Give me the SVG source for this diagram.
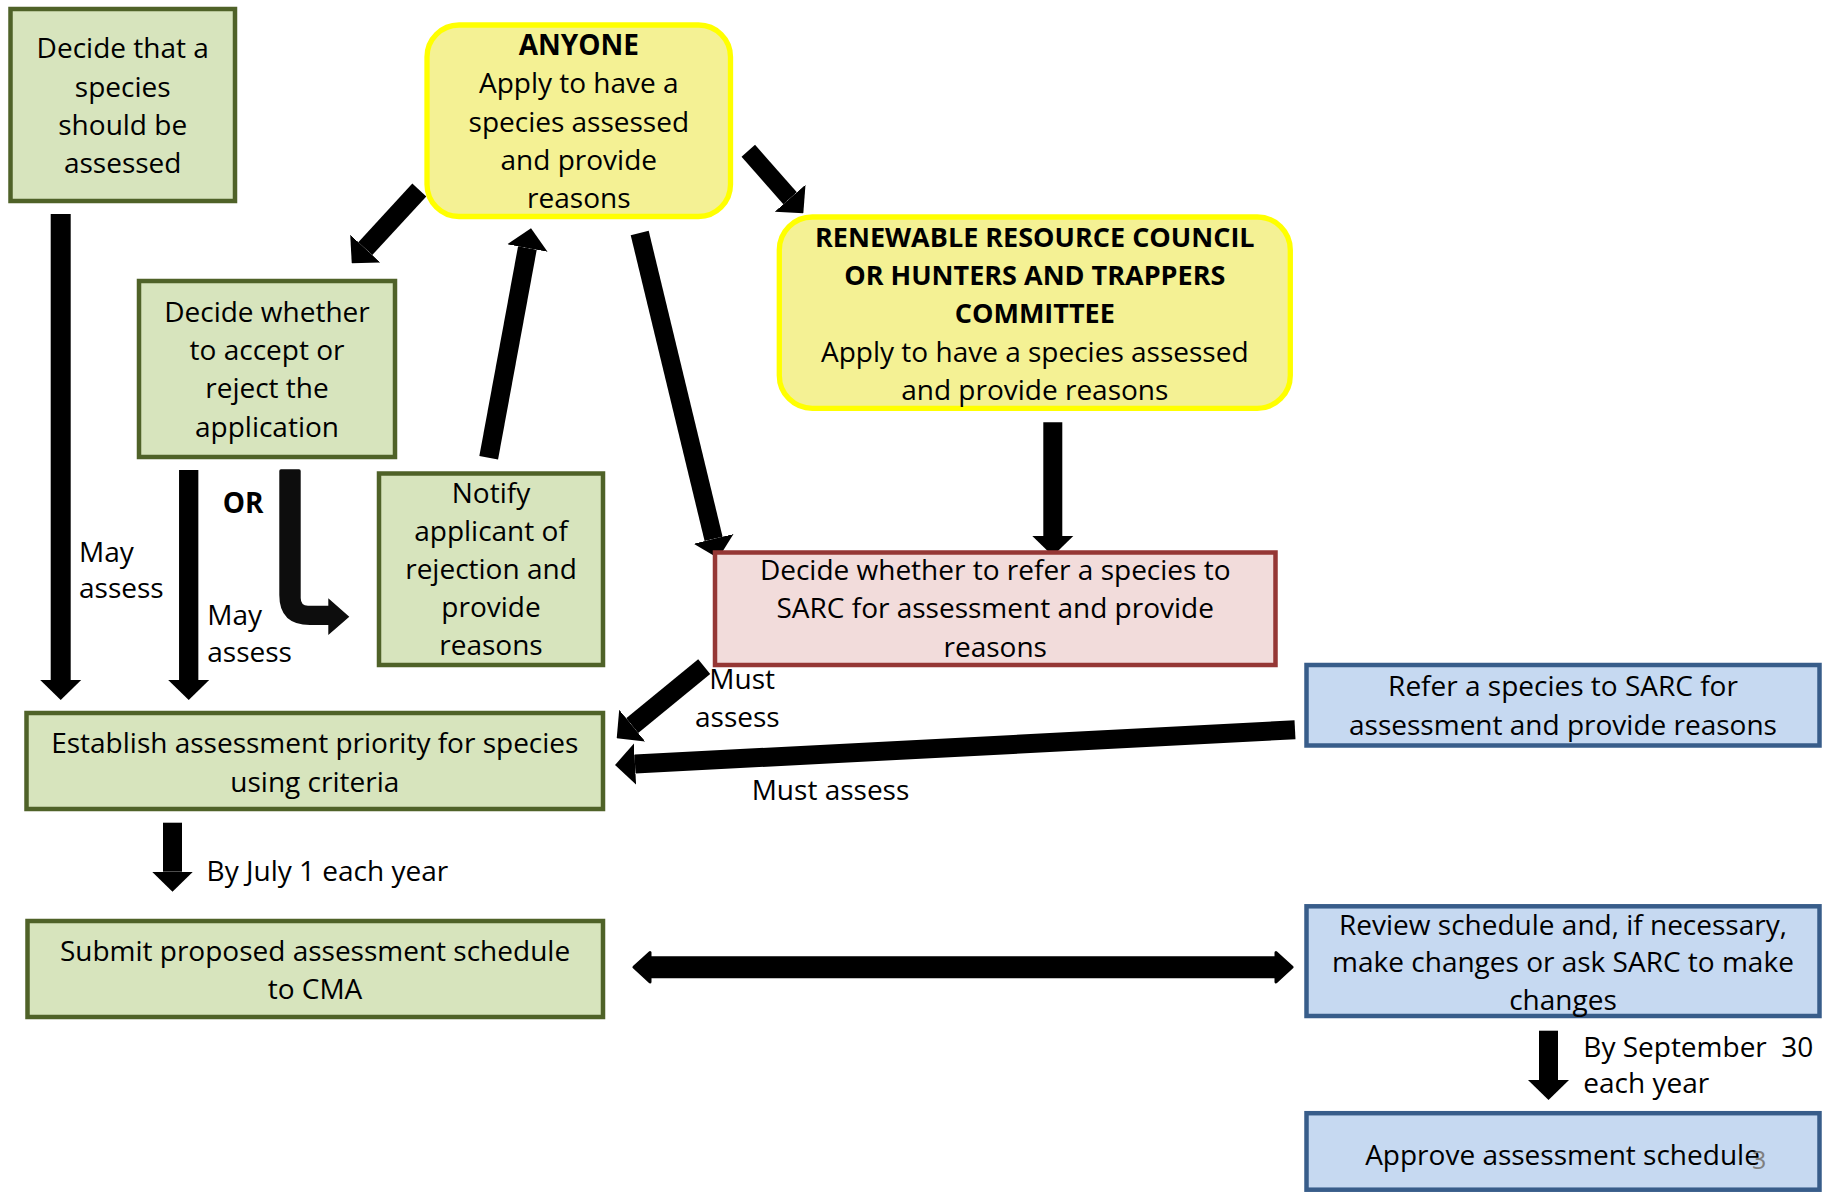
<svg xmlns="http://www.w3.org/2000/svg" width="1829" height="1192" viewBox="0 0 1829 1192">
<defs>
<style>
.t{font-family:"Open Sans","Noto Sans","Liberation Sans",sans-serif;font-size:28px;fill:#000;text-anchor:middle}
.tb{font-weight:bold}
.t27{font-size:27px}
.l{font-family:"Open Sans","Noto Sans","Liberation Sans",sans-serif;font-size:28px;fill:#000}
.gbox{fill:#d7e4bd;stroke:#4f6228;stroke-width:4.5}
.ybox{fill:#f4f194;stroke:#ffff00;stroke-width:5.3}
.rbox{fill:#f2dcdb;stroke:#953735;stroke-width:4.5}
.bbox{fill:#c6d9f1;stroke:#385d8a;stroke-width:4.5}
.sh{stroke:#000;fill:none;marker-end:url(#ah)}
</style>
<marker id="ah" viewBox="0 -21 20 42" refX="0" refY="0" markerWidth="20" markerHeight="42" markerUnits="userSpaceOnUse" orient="auto">
<path d="M0,-20.5 L20,0 L0,20.5 Z" fill="#000"/>
</marker>
</defs>
<rect width="1829" height="1192" fill="#fff"/>

<g id="connectors">
<line class="sh" x1="60.7" y1="214" x2="60.7" y2="680" stroke-width="20"/>
<line class="sh" x1="188.7" y1="470" x2="188.7" y2="680" stroke-width="19.3"/>
<line class="sh" x1="172.5" y1="822.7" x2="172.5" y2="871.7" stroke-width="19"/>
<line class="sh" x1="1052.8" y1="422.3" x2="1052.8" y2="536" stroke-width="19"/>
<line class="sh" x1="1548.5" y1="1030.7" x2="1548.5" y2="1080" stroke-width="19"/>
<line class="sh" x1="488.7" y1="457.7" x2="527.4" y2="248" stroke-width="19"/>
<line class="sh" x1="419.3" y1="190" x2="365.3" y2="248.6" stroke-width="19"/>
<line class="sh" x1="748.3" y1="150.8" x2="790.1" y2="198.3" stroke-width="18"/>
<line class="sh" x1="639.7" y1="233" x2="713.6" y2="538.9" stroke-width="18.5"/>
<line class="sh" x1="704.2" y1="666.7" x2="632.2" y2="725.6" stroke-width="19"/>
<line class="sh" x1="1295" y1="729.8" x2="635" y2="764" stroke-width="19"/>
<polygon points="634,967.2 650,952.5 650,957.7 1276,957.7 1276,952.5 1292,967.2 1276,982 1276,976.7 650,976.7 650,982" fill="#000" stroke="#000" stroke-width="3" stroke-linejoin="round"/>
<path d="M279.3,471 Q279.3,469.3 281,469.3 H299 Q300.7,469.3 300.7,471 V598 Q300.7,605.7 308,605.7 H328.3 V598.3 L349.3,616.7 L328.3,635 V625 H310 Q279.3,625 279.3,595 Z" fill="#0d0d0d"/>
</g>

<g id="label-may1"><text class="l" x="79" y="561.7">May</text><text class="l" x="79" y="598.3">assess</text></g>
<g id="label-may2"><text class="l" x="207.3" y="625">May</text><text class="l" x="207.3" y="661.7">assess</text></g>
<g id="label-or"><text class="l tb" x="222.7" y="513.3">OR</text></g>
<g id="label-must1"><text class="l" x="709.3" y="688.5">Must</text><text class="l" x="695" y="726.7">assess</text></g>
<g id="label-must2"><text class="l" x="751.7" y="800">Must assess</text></g>
<g id="label-july"><text class="l" x="206.6" y="881">By July 1 each year</text></g>
<g id="label-sept"><text class="l" x="1583.3" y="1056.7" style="white-space:pre">By September  30</text><text class="l" x="1583.3" y="1093.3">each year</text></g>

<g id="node-decide-that">
<rect class="gbox" x="10.5" y="9" width="224.5" height="192"/>
<text class="t" x="122.7" y="58.3">Decide that a</text>
<text class="t" x="122.7" y="96.7">species</text>
<text class="t" x="122.7" y="135">should be</text>
<text class="t" x="122.7" y="173.3">assessed</text>
</g>

<g id="node-anyone">
<rect class="ybox" x="427" y="25" width="303.5" height="191.5" rx="32"/>
<text class="t tb" x="578.8" y="55">ANYONE</text>
<text class="t" x="578.8" y="93.3">Apply to have a</text>
<text class="t" x="578.8" y="131.6">species assessed</text>
<text class="t" x="578.8" y="170">and provide</text>
<text class="t" x="578.8" y="208.3">reasons</text>
</g>

<g id="node-rrc">
<rect class="ybox" x="779.3" y="217" width="511" height="191.4" rx="33"/>
<text class="t tb t27" x="1034.8" y="246.7">RENEWABLE RESOURCE COUNCIL</text>
<text class="t tb t27" x="1034.8" y="285">OR HUNTERS AND TRAPPERS</text>
<text class="t tb t27" x="1034.8" y="323.3">COMMITTEE</text>
<text class="t" x="1034.8" y="361.7">Apply to have a species assessed</text>
<text class="t" x="1034.8" y="400">and provide reasons</text>
</g>

<g id="node-decide-whether">
<rect class="gbox" x="139" y="281" width="256" height="176"/>
<text class="t" x="267" y="321.7">Decide whether</text>
<text class="t" x="267" y="360">to accept or</text>
<text class="t" x="267" y="398.3">reject the</text>
<text class="t" x="267" y="436.7">application</text>
</g>

<g id="node-notify">
<rect class="gbox" x="379" y="473.5" width="224" height="191.5"/>
<text class="t" x="491" y="502.5">Notify</text>
<text class="t" x="491" y="540.5">applicant of</text>
<text class="t" x="491" y="578.5">rejection and</text>
<text class="t" x="491" y="616.5">provide</text>
<text class="t" x="491" y="654.5">reasons</text>
</g>

<g id="node-decide-refer">
<rect class="rbox" x="715" y="552.5" width="560.5" height="112.5"/>
<text class="t" x="995.2" y="580">Decide whether to refer a species to</text>
<text class="t" x="995.2" y="618.3">SARC for assessment and provide</text>
<text class="t" x="995.2" y="656.7">reasons</text>
</g>

<g id="node-refer">
<rect class="bbox" x="1306.5" y="665" width="513" height="80.5"/>
<text class="t" x="1563" y="696">Refer a species to SARC for</text>
<text class="t" x="1563" y="734.5">assessment and provide reasons</text>
</g>

<g id="node-establish">
<rect class="gbox" x="26.5" y="713" width="576.5" height="96"/>
<text class="t" x="314.8" y="753.3">Establish assessment priority for species</text>
<text class="t" x="314.8" y="791.7">using criteria</text>
</g>

<g id="node-submit">
<rect class="gbox" x="27.5" y="921" width="575.5" height="96"/>
<text class="t" x="315" y="961">Submit proposed assessment schedule</text>
<text class="t" x="315" y="999.3">to CMA</text>
</g>

<g id="node-review">
<rect class="bbox" x="1306.5" y="906.3" width="513" height="109.7"/>
<text class="t" x="1563" y="934.8">Review schedule and, if necessary,</text>
<text class="t" x="1563" y="972.2">make changes or ask SARC to make</text>
<text class="t" x="1563" y="1010">changes</text>
</g>

<g id="node-approve">
<rect class="bbox" x="1306.5" y="1113.2" width="513" height="76.5"/>
<text class="t" x="1562.5" y="1165">Approve assessment schedule</text>
<text x="1752" y="1169" style="font-family:'Open Sans','Noto Sans',sans-serif;font-size:25px;fill:#7f7f7f">3</text>
</g>
</svg>
